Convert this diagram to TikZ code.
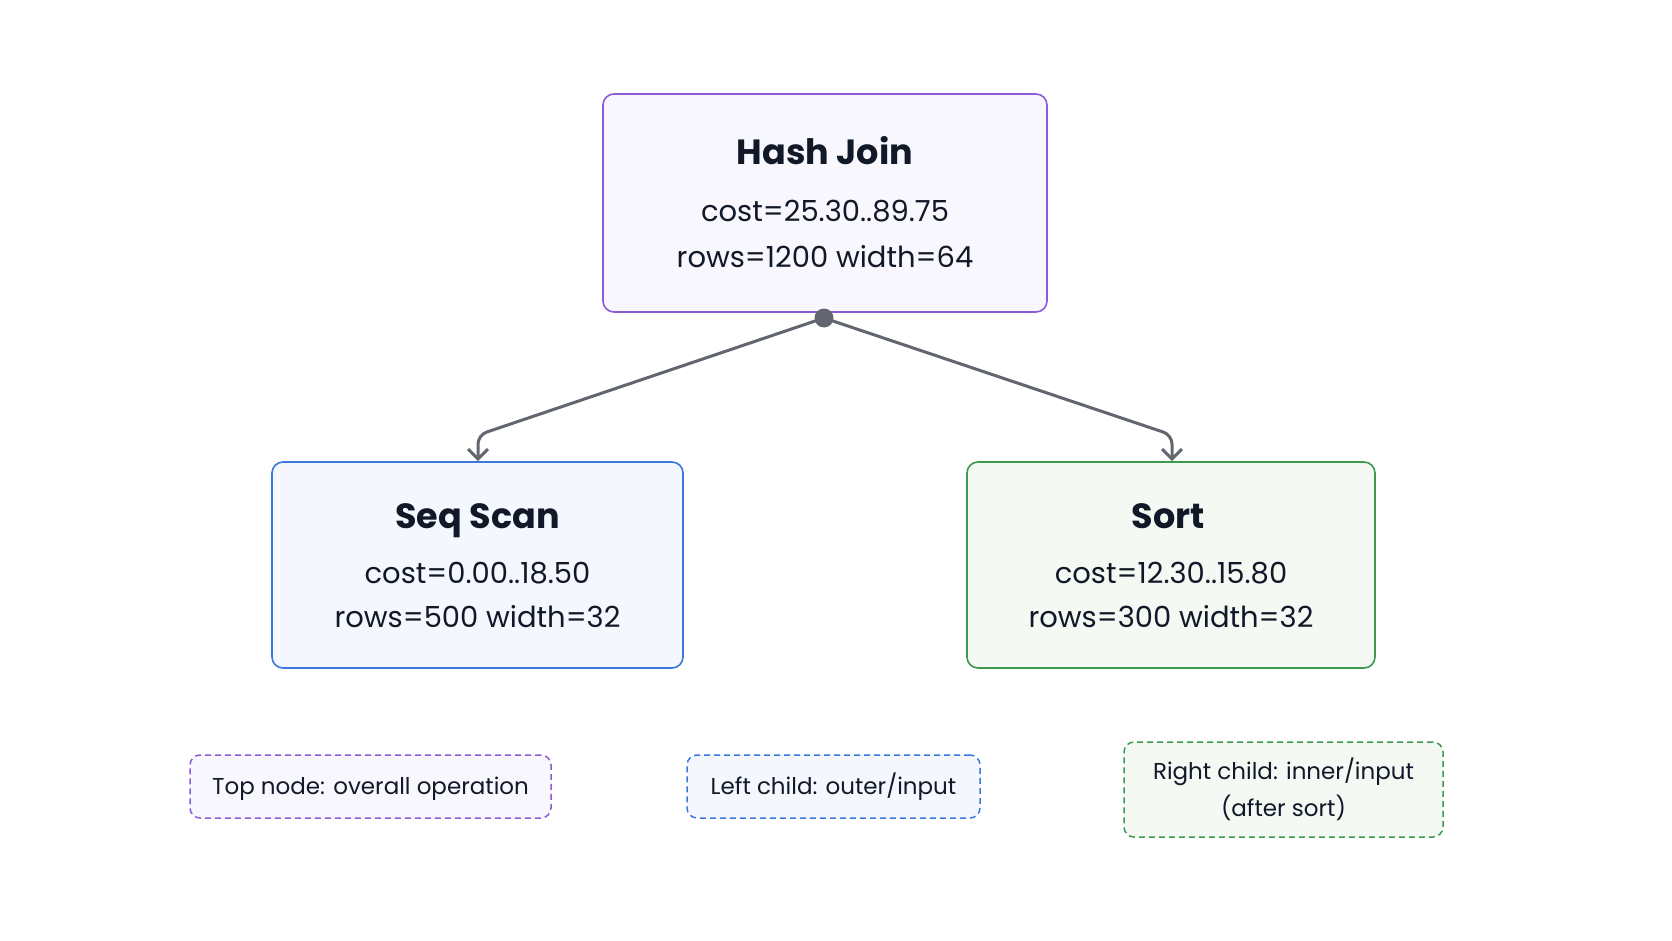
\documentclass[tikz,border=0pt]{standalone}
\usepackage{fontspec}
\setmainfont{Poppins}
\usetikzlibrary{arrows.meta}
\definecolor{txt}{HTML}{111827}
\definecolor{purp}{HTML}{8B5CD6}
\definecolor{purpf}{HTML}{F9F7FE}
\definecolor{blu}{HTML}{3B78DD}
\definecolor{bluf}{HTML}{F4F7FD}
\definecolor{grn}{HTML}{3C9A4B}
\definecolor{grnf}{HTML}{F4F9F4}
\definecolor{arrc}{HTML}{62666F}
\tikzset{
  opbox/.style={draw, line width=1.6pt, rounded corners=11pt, inner sep=0pt},
  legbox/.style={draw, line width=1.5pt, dash pattern=on 6pt off 4pt, rounded corners=10pt, inner sep=0pt},
  ttl/.style={text=txt, font=\bfseries\fontsize{35}{42}\selectfont, anchor=base, inner sep=0pt},
  bod/.style={text=txt, font=\fontsize{29}{34}\selectfont, anchor=base, inner sep=0pt},
  leg/.style={text=txt, font=\fontsize{23}{28}\selectfont, anchor=base, inner sep=0pt},
  conn/.style={draw=arrc, line width=3pt, rounded corners=9pt, -{Straight Barb[length=10pt,width=20pt,line width=3pt]}},
}
\begin{document}
\begin{tikzpicture}[x=1pt,y=-1pt]
\useasboundingbox (0,0) rectangle (1672,941);
\fill[white] (0,0) rectangle (1672,941);
% boxes
\node[opbox, draw=purp, fill=purpf, minimum width=444pt, minimum height=218pt] (hj) at (825,203) {};
\node[opbox, draw=blu, fill=bluf, minimum width=411pt, minimum height=206pt] (sq) at (477.5,565) {};
\node[opbox, draw=grn, fill=grnf, minimum width=408pt, minimum height=206pt] (so) at (1171,565) {};
% texts
\node[ttl] (hjt) at (825,165) {Hash Join};
\node[bod] (hjc) at (825,222) {cost=25.30..89.75};
\node[bod] (hjr) at (825,268) {rows=1200 width=64};
\node[ttl] (sqt) at (477.5,528) {Seq Scan};
\node[bod] (sqc) at (477.5,583) {cost=0.00..18.50};
\node[bod] (sqr) at (477.5,627) {rows=500 width=32};
\node[ttl] (sot) at (1168,528) {Sort};
\node[bod] (soc) at (1171,583) {cost=12.30..15.80};
\node[bod] (sor) at (1171,627) {rows=300 width=32};
% connectors
\coordinate (lb) at (478,435);
\coordinate (rb) at (1172,435);
\draw[conn] (824,318) -- (lb) -- (sq.north -| lb);
\draw[conn] (824,318) -- (rb) -- (so.north -| rb);
\node[circle, fill=arrc, minimum size=19pt, inner sep=0pt] (dot) at (824,318) {};
% legend
\node[legbox, draw=purp, fill=purpf, minimum width=361pt, minimum height=63pt] (l1) at (370.5,786.5) {};
\node[leg] (l1t) at (370.5,794.5) {Top node: overall operation};
\node[legbox, draw=blu, fill=bluf, minimum width=293pt, minimum height=63pt] (l2) at (833.5,786.5) {};
\node[leg] (l2t) at (833.5,794.5) {Left child: outer/input};
\node[legbox, draw=grn, fill=grnf, minimum width=319pt, minimum height=95pt] (l3) at (1283.5,789.5) {};
\node[leg] (l3t) at (1283.5,779) {Right child: inner/input};
\node[leg] (l3u) at (1283.5,816) {(after sort)};
\end{tikzpicture}
\end{document}
